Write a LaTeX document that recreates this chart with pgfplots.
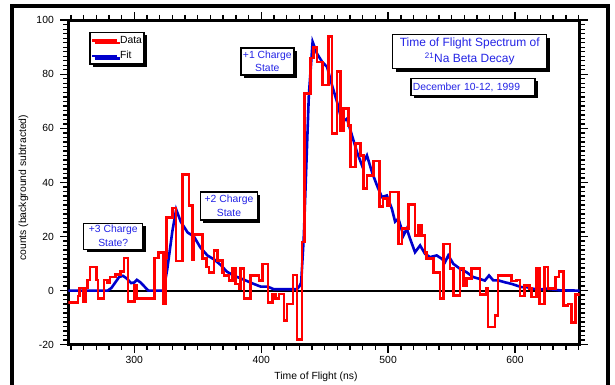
\documentclass[border=0pt]{standalone}
\usepackage{pgfplots}
\pgfplotsset{compat=1.18}
\usepackage{fontspec}
\setmainfont{Liberation Sans}
\usetikzlibrary{shadows}
\definecolor{datared}{RGB}{255,0,0}
\definecolor{fitblue}{RGB}{0,0,205}
\definecolor{annoblue}{RGB}{35,35,230}
\newcommand{\fsz}{\fontsize{10.4}{12}\selectfont}
\tikzset{annot/.style={draw=black, line width=1.5bp, fill=white, text=annoblue, align=center, inner sep=0pt,
    drop shadow={shadow xshift=3bp, shadow yshift=-3bp, fill=black, opacity=1}}}
\begin{document}
\begin{tikzpicture}[x=1bp,y=1bp]
\useasboundingbox (0,0) rectangle (615,384);
\draw[line width=4bp] (12,-5) -- (12,377.5) -- (608,377.5) -- (608,-5);
\begin{axis}[
  at={(68.3bp,39.3bp)}, anchor=south west,
  scale only axis, width=511.2bp, height=324.5bp,
  xmin=248, xmax=650.8, ymin=-20, ymax=100,
  xtick={250,260,...,650}, xticklabels={},
  ytick={-20,-18.3333,...,100}, yticklabels={},
  extra x ticks={300,400,500,600}, extra x tick labels={300,400,500,600},
  extra y ticks={-20,0,20,40,60,80,100}, extra y tick labels={-20,0,20,40,60,80,100},
  extra tick style={major tick length=8bp},
  tick align=outside,
  major tick length=5.2bp,
  every tick/.style={black, line width=1.4bp},
  major tick style={black, line width=1.4bp},
  axis line style={line width=2.8bp},
  tick label style={font=\fsz},
  yticklabel style={xshift=-3bp},
  xticklabel style={yshift=-0.5bp},
  xlabel={Time of Flight (ns)},
  ylabel={counts (background subtracted)},
  label style={font=\fsz},
  xlabel style={at={(axis description cs:0.4846,0)}, anchor=center, yshift=-32bp},
  ylabel style={at={(axis description cs:-0.0877,0.4836)}, anchor=center},
  legend style={at={(axis cs:264.6,95.8)}, anchor=north west, draw=black, line width=1.5bp, fill=white,
    drop shadow={shadow xshift=2.5bp, shadow yshift=-2.5bp, fill=black, opacity=1},
    inner xsep=1bp, inner ysep=2.5bp, row sep=4bp, font=\fsz, text=black,
    nodes={inner sep=1.3bp}},
  legend cell align=left,
  reverse legend,
  legend image code/.code={\path (0bp,0bp) -- (25bp,0bp); \draw[#1] (0bp,0bp) -- (22bp,0bp);},
]
\addplot[black, line width=2bp, forget plot] coordinates {(248,0) (650.8,0)};
\addplot[fitblue, line width=2.6bp] coordinates {
(248,0) (279,0) (282,1) (285,3) (288,5) (291,5.5) (294,4.5) (297.5,2.8) (300,3) (302,4)
(305,3) (308,1.5) (311,0) (323,0) (326,8) (330,22) (333,30) (336.7,25.4) (340,23) (342,21.5)
(347,20) (352,16) (357.6,13) (363,11.5) (368,9.5) (373,7) (378.6,5.5) (384,4.5) (389,3.5)
(394,2.5) (399.5,1.5) (405,1.5) (410,0.5) (428,0.5) (430,1.5) (431.5,3) (433.6,20.4)
(437.5,72) (440.5,92) (444,87.6) (448,84.6) (451.9,82.7) (455.8,75.9) (459.8,69.7)
(463.7,62.3) (467.6,63.6) (471.5,57.4) (475.5,51.2) (479.4,46.3) (483.3,50) (487.3,43.8)
(491.2,38.9) (495.1,34.6) (499,35.2) (503,30.2) (505.5,25.5) (508.1,26.6) (512.1,20.4)
(514.7,22.9) (517.3,19.2) (521.2,14.2) (525.2,16.7) (529.1,13.6) (533,12.4) (538.3,13)
(542.2,11.8) (544.8,10.5) (547.4,13) (551.4,9.9) (556.6,8.1) (561.8,6.8) (567.1,5)
(572.3,4.3) (576.2,3.7) (579.5,5.6) (582.8,3.8) (586.7,3.8) (591.9,3.1) (597.2,2.5)
(601.1,1.9) (605,1.3) (609,1.3) (614.2,0.7) (619.4,0.4) (624.7,0.7) (629.9,0.4) (635.1,0.1)
(651,0)};
\addlegendentry{Fit}
\addplot[const plot, datared, line width=2.6bp] coordinates {
(247,-4.3) (255.5,-2) (257,1) (260,-4) (261.5,1) (263,4) (265,8.7) (270,4) (271.5,-3)
(276,4) (279,3) (281,5) (285,6) (289,7) (292,12) (295,-4) (300,2) (301.5,-3) (316,12)
(319,14) (323,-5) (324.5,12) (325.5,27) (330,30.5) (333,11) (338,43) (343,31.5)
(345.8,11.5) (347.1,20.7) (353.7,11.8) (357.1,8.7) (358.9,6.8) (362.8,14.8) (365.4,11.2)
(369.4,6.8) (370.7,5.6) (374.6,3.7) (377.2,8.1) (379.8,2.5) (382.5,0.6) (383.8,8.1)
(386.4,-3) (391.6,5.6) (398.2,3.7) (400.8,9.9) (405.5,-4.3) (408.7,-1.2) (411.3,-3)
(413.9,-1.2) (417.8,-11.1) (420.4,-4.9) (425,5.8) (428.3,-18) (432,18) (434,73)
(438.8,86) (441,90) (444,84.6) (448.5,76) (453.2,94) (455.8,58) (459.8,81) (462.3,59.3)
(465,67.3) (469,61) (470.2,45.7) (474.2,54.3) (478,50) (480.7,37.7) (483.3,42.6)
(488.5,48) (493.2,31) (495.9,34) (499.5,31.5) (501.6,36.5) (508.1,17.3) (510.8,22.9)
(516,31.8) (521.2,20.4) (523.8,24.1) (526.5,20.4) (529.1,14.2) (530.4,11.8) (535.6,6.8)
(540.9,-3) (543.5,17.3) (548.7,8.1) (551.4,-1.8) (556.6,8.1) (559.2,1.9) (561.8,4.4)
(565.8,8.1) (572.3,-1.5) (577.5,0.7) (578.8,-13.5) (584.1,-9.2) (586.7,5.5) (597.2,3.5)
(601.1,4) (604,-2) (607.6,1.9) (611.6,0.7) (612.9,-2.4) (616.8,8.1) (619.4,-4.9)
(623.4,8.7) (626,0.7) (632,5) (634.6,7) (638.3,-5.5) (641.7,-5) (644.3,-11.7)
(647.5,-1.5) (652,-1.5)};
\addlegendentry{Data}
\node[annot, minimum width=53bp, minimum height=27bp, font=\fontsize{10.4}{14}\selectfont]
  at (axis cs:404.8,84.8) {+1 Charge\\State};
\node[annot, minimum width=57bp, minimum height=28bp, font=\fontsize{10.4}{14}\selectfont]
  at (axis cs:374.6,31.3) {+2 Charge\\State};
\node[annot, minimum width=59bp, minimum height=26bp, font=\fontsize{10.4}{14}\selectfont]
  at (axis cs:283.4,20.1) {+3 Charge\\State?};
\node[annot, minimum width=154bp, minimum height=34bp, font=\fontsize{12}{16}\selectfont]
  at (axis cs:564.3,88.4) {Time of Flight Spectrum of\\\textsuperscript{21}Na Beta Decay};
\node[annot, minimum height=17bp, text width=120bp, align=left, inner xsep=2bp, font=\fsz]
  at (axis cs:566.8,75.3) {December 10-12, 1999};
\end{axis}
\end{tikzpicture}
\end{document}
